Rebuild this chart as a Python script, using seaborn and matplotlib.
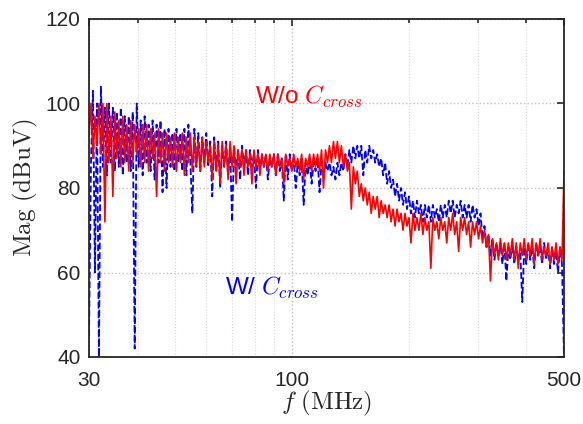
import numpy as np
import pandas as pd
import matplotlib
matplotlib.use("Agg")
import matplotlib.pyplot as plt
import seaborn as sns
from matplotlib.ticker import FixedLocator, NullFormatter

# Spectrum analyzer sweep grid (log-spaced, 30 MHz to 500 MHz)
freq_mhz = np.geomspace(30, 500, 240)

# W/o C_cross (red, solid), dBuV
mag_wo = [
    92, 100, 87, 97, 90, 100, 88, 100, 72, 100, 86, 97, 78, 98, 87, 96, 85, 97, 86, 95,
    84, 96, 86, 95, 88, 94, 85, 95, 86, 95, 84, 94, 87, 93, 78, 94, 86, 93, 84, 93,
    86, 92, 85, 93, 84, 92, 86, 93, 83, 92, 86, 93, 84, 92, 85, 91, 84, 92, 85, 91,
    86, 90, 82, 91, 84, 90, 81, 91, 85, 90, 82, 91, 85, 90, 81, 89, 85, 89, 83, 89,
    85, 88, 81, 89, 85, 88, 83, 88, 85, 88, 84, 88, 85, 88, 83, 88, 85, 87, 81, 88,
    85, 87, 84, 88, 85, 87, 84, 88, 82, 87, 85, 88, 84, 88, 85, 88, 84, 89, 80, 89,
    86, 90, 86, 91, 87, 91, 86, 90, 85, 88, 84, 86, 75, 85, 81, 84, 78, 81, 77, 80,
    76, 79, 74, 78, 75, 78, 73, 77, 74, 76, 73, 76, 72, 75, 71, 75, 72, 74, 70, 74,
    71, 73, 67, 74, 70, 73, 70, 74, 69, 73, 70, 72, 61, 73, 70, 72, 68, 73, 70, 72,
    67, 73, 70, 74, 69, 72, 65, 73, 70, 73, 69, 72, 66, 72, 69, 72, 68, 71, 67, 70,
    66, 69, 58, 68, 64, 67, 63, 68, 64, 67, 63, 67, 64, 68, 63, 67, 61, 67, 64, 68,
    63, 67, 64, 68, 62, 67, 64, 68, 63, 66, 64, 67, 62, 66, 63, 67, 62, 66, 63, 84,
]

# W/ C_cross (blue, dashed), dBuV
mag_w = [
    45, 86, 103, 60, 100, 40, 104, 85, 99, 83, 100, 86, 99, 84, 98, 85, 99, 83, 97, 86,
    97, 84, 98, 42, 100, 85, 96, 83, 97, 86, 95, 84, 96, 82, 95, 86, 96, 79, 94, 80,
    94, 85, 93, 84, 94, 86, 93, 84, 94, 83, 95, 86, 74, 94, 85, 93, 84, 92, 86, 93,
    85, 91, 78, 92, 84, 91, 80, 90, 85, 91, 83, 90, 72, 90, 84, 89, 82, 90, 85, 89,
    83, 89, 85, 88, 80, 89, 84, 88, 85, 88, 82, 87, 85, 88, 83, 88, 84, 87, 77, 88,
    82, 88, 84, 87, 80, 86, 83, 87, 76, 86, 83, 87, 81, 86, 84, 87, 79, 86, 83, 86,
    84, 86, 83, 85, 82, 86, 83, 86, 84, 88, 85, 89, 86, 90, 87, 90, 87, 90, 83, 89,
    86, 90, 87, 89, 86, 88, 85, 87, 83, 86, 81, 84, 80, 82, 78, 81, 77, 80, 76, 79,
    75, 78, 74, 77, 73, 77, 74, 76, 72, 76, 73, 76, 72, 76, 73, 75, 72, 76, 73, 76,
    73, 77, 74, 77, 73, 76, 74, 77, 73, 76, 73, 76, 72, 76, 73, 75, 71, 74, 68, 71,
    66, 69, 64, 68, 63, 67, 64, 67, 62, 67, 58, 66, 63, 67, 62, 66, 63, 65, 53, 66,
    62, 67, 63, 66, 61, 67, 64, 66, 62, 67, 63, 66, 61, 66, 62, 65, 60, 66, 62, 40,
]

x_ticks = [30, 100, 500]
x_ticklabels = ["30", "100", "500"]
x_minor = [40, 50, 60, 70, 80, 90, 200, 300, 400]
y_ticks = [40, 60, 80, 100, 120]

df_w = pd.DataFrame({"f": freq_mhz, "mag": mag_w})
df_wo = pd.DataFrame({"f": freq_mhz, "mag": mag_wo})

sns.set_style("white")
plt.rcParams["font.family"] = ["Liberation Sans", "DejaVu Sans"]
plt.rcParams["mathtext.fontset"] = "cm"

fig = plt.figure(figsize=(5.83, 4.24), dpi=100)
ax = fig.add_axes([89 / 583, 1 - 357 / 424, 475 / 583, 338 / 424])

sns.lineplot(data=df_w, x="f", y="mag", ax=ax, color="#0000ff", linestyle="--",
             linewidth=1.3, sort=False, estimator=None)
sns.lineplot(data=df_wo, x="f", y="mag", ax=ax, color="#ff0000", linestyle="-",
             linewidth=1.2, sort=False, estimator=None)

ax.set_xscale("log")
ax.set_xlim(30, 500)
ax.set_ylim(40, 120)
ax.xaxis.set_major_locator(FixedLocator(x_ticks))
ax.set_xticklabels(x_ticklabels)
ax.xaxis.set_minor_locator(FixedLocator(x_minor))
ax.xaxis.set_minor_formatter(NullFormatter())
ax.set_yticks(y_ticks)

ax.grid(True, which="major", color="#c0c0c0", linestyle=":", linewidth=1.0)
ax.grid(True, which="minor", axis="x", color="#d8d8d8", linestyle=":", linewidth=0.8)
ax.set_axisbelow(True)

ax.tick_params(which="both", direction="in", top=True, right=True,
               labelsize=15, colors="#262626", length=5, width=1.2)
ax.tick_params(which="minor", length=3)
ax.tick_params(axis="x", which="major", pad=10)
ax.tick_params(axis="y", which="major", pad=6)
for s in ax.spines.values():
    s.set_color("#262626")
    s.set_linewidth(1.3)

ax.set_xlabel(r"$f\ \mathrm{(MHz)}$", fontsize=18, labelpad=-1)
ax.set_ylabel(r"$\mathrm{Mag\ (dBuV)}$", fontsize=18, labelpad=4)

ax.text(80.2, 101.5, r"W/o $C_{cross}$", color="#ff0000", fontsize=17.5,
        va="center", ha="left")
ax.text(67.1, 56.3, r"W/ $C_{cross}$", color="#0000ff", fontsize=17.5,
        va="center", ha="left")

fig.savefig("out.png", dpi=100)
